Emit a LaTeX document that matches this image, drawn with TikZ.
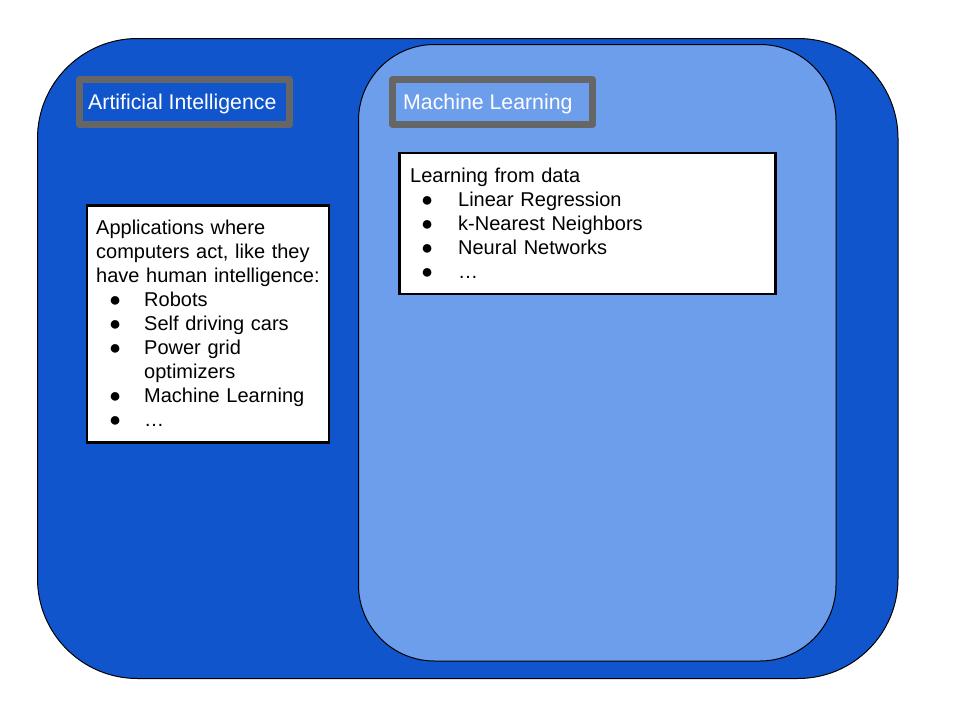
\documentclass[tikz,border=0pt]{standalone}
\usepackage{fontspec}
\setmainfont{Liberation Sans}
\definecolor{aiblue}{HTML}{1155CC}
\definecolor{mlblue}{HTML}{6D9EEB}
\definecolor{lblgray}{HTML}{666666}
\newcommand\bli[1][13pt]{\makebox[48pt][l]{\hspace*{#1}●}}
\begin{document}
\begin{tikzpicture}[x=1pt,y=-1pt,
  region/.style={draw=black, line width=1pt, inner sep=0pt},
  lblbox/.style={draw=lblgray, line width=7pt, line join=round, inner sep=0pt},
  lbltext/.style={text=white, font=\fontsize{21.3}{25}\selectfont, anchor=base west, inner sep=0pt},
  textbox/.style={draw=black, fill=white, line width=2.5pt, inner sep=0pt},
  bodytext/.style={font=\fontsize{20}{24}\selectfont, anchor=base west, inner sep=0pt, align=left, text width=330pt}
]
\useasboundingbox (0,0) rectangle (960,720);
% regions
\node[region, fill=aiblue, rounded corners=100pt, minimum width=860.5pt, minimum height=640pt] (ai) at (467.75,358.5) {};
\node[region, fill=mlblue, rounded corners=76pt, minimum width=477.5pt, minimum height=616.5pt] (ml) at (597.25,352.75) {};
% labels
\node[lblbox, fill=aiblue, minimum width=210pt, minimum height=45pt] (ailbl) at (184.5,102) {};
\node[lbltext] (ailbltxt) at (88,109) {Artificial Intelligence};
\node[lblbox, fill=mlblue, minimum width=200pt, minimum height=45pt] (mllbl) at (492.5,102) {};
\node[lbltext] (mllbltxt) at (403,109) {Machine Learning};
% text boxes
\node[textbox, minimum width=242pt, minimum height=237pt] (aibox) at (208,324) {};
\node[bodytext] (aitext) at (96,234) {Applications where\\
computers act, like they\\
have human intelligence:\\
\bli Robots\\
\bli Self driving cars\\
\bli Power grid\\
\hspace*{48pt}optimizers\\
\bli Machine Learning\\
\bli …};
\node[textbox, minimum width=376pt, minimum height=141pt] (mlbox) at (587.5,223.5) {};
\node[bodytext] (mltext) at (410,182) {Learning from data\\
\bli[11pt]Linear Regression\\
\bli[11pt]k-Nearest Neighbors\\
\bli[11pt]Neural Networks\\
\bli[11pt]…};
\end{tikzpicture}
\end{document}
